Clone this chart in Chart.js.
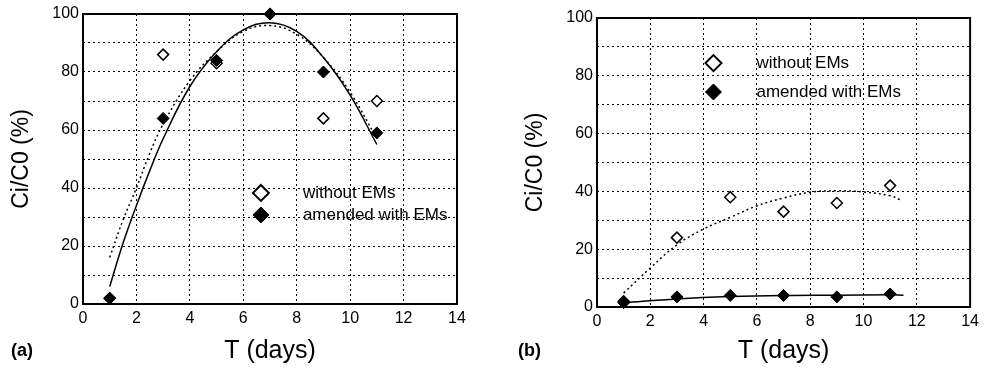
<!DOCTYPE html>
<html>
<head>
<meta charset="utf-8">
<script src="https://cdn.jsdelivr.net/npm/chart.js@4.4.0/dist/chart.umd.min.js"></script>
<style>
body{margin:0;background:#fff;width:984px;height:372px;position:relative;overflow:hidden;font-family:"Liberation Sans",Arial,sans-serif}
.box{position:absolute;top:0;height:372px}
.tag{position:absolute;top:340px;font-weight:bold;font-size:18px;color:#000}
</style>
</head>
<body>
<div class="box" style="left:0;width:475px"><canvas id="chartA"></canvas></div>
<div class="box" style="left:514px;width:470px"><canvas id="chartB"></canvas></div>
<div class="tag" style="left:11px">(a)</div>
<div class="tag" style="left:518px">(b)</div>
<script>
// dados medidos (dias de amostragem)
const days = [1, 3, 5, 7, 9, 11];
const aWithout = [2, 86, 83, 100, 64, 70];
const aAmended = [2, 64, 84, 100, 80, 59];
const bWithout = [2, 24, 38, 33, 36, 42];
const bAmended = [1.5, 3.5, 4, 4, 3.5, 4.5];

// curvas de ajuste
const aFitX = [1, 1.5, 2, 2.5, 3, 4, 5, 6, 7, 8, 9, 10, 11];
const aFitAmended = [6, 21, 34, 46, 57, 75, 87, 94.5, 97, 94, 85, 72, 55];
const aFitWithout = [16, 29, 40, 52, 62, 77, 87, 94, 96, 93, 85, 73, 57];
const bFitX = [1, 2, 3, 4, 5, 6, 7, 8, 9, 10, 11, 11.4];
const bFitWithout = [4.8, 13.5, 21.5, 27, 31, 35, 37.7, 39.7, 40.2, 39.8, 38.5, 37];
const bFitAmendedX = [1, 3, 5, 7, 9, 11, 11.5];
const bFitAmended = [1.5, 2.8, 3.6, 4, 4.1, 4.2, 4.1];

const legendLabels = ['without EMs', 'amended with EMs'];
const xTicks = [0, 2, 4, 6, 8, 10, 12, 14];
const yLabelTicks = [0, 20, 40, 60, 80, 100];

Chart.defaults.font.family = '"Liberation Sans", Arial, sans-serif';
Chart.defaults.color = '#000';

const pts = (xs, ys) => xs.map((x, i) => ({x: x, y: ys[i]}));

function diamond(ctx, x, y, r, open) {
  ctx.beginPath();
  ctx.moveTo(x, y - r);
  ctx.lineTo(x + r, y);
  ctx.lineTo(x, y + r);
  ctx.lineTo(x - r, y);
  ctx.closePath();
  ctx.fillStyle = open ? '#fff' : '#000';
  ctx.fill();
  ctx.lineWidth = open ? 2 : 1;
  ctx.strokeStyle = '#000';
  ctx.stroke();
}

// moldura e legenda dentro do gráfico
const framePlugin = {
  id: 'frame',
  beforeDatasetsDraw(chart) {
    const {ctx, chartArea: a} = chart;
    ctx.save();
    ctx.strokeStyle = '#000';
    ctx.lineWidth = 2;
    ctx.strokeRect(a.left, a.top, a.right - a.left, a.bottom - a.top);
    ctx.restore();
  },
  afterDraw(chart, args, opts) {
    const {ctx, scales} = chart;
    ctx.save();
    const x = scales.x.getPixelForValue(opts.at[0]);
    legendLabels.forEach((txt, i) => {
      const y = scales.y.getPixelForValue(opts.at[1] - i * opts.step);
      diamond(ctx, x, y, 8, i === 0);
      ctx.fillStyle = '#000';
      ctx.font = '17px "Liberation Sans", Arial, sans-serif';
      ctx.textBaseline = 'middle';
      ctx.fillText(txt, x + opts.textDx, y);
    });
    ctx.restore();
  }
};

function makeChart(id, cfg) {
  const open = {
    type: 'scatter', label: legendLabels[0], data: pts(days, cfg.without),
    pointStyle: 'rectRot', pointRadius: 5.5, backgroundColor: '#fff',
    borderColor: '#000', borderWidth: 1.5, order: 1, clip: false
  };
  const filled = {
    type: 'scatter', label: legendLabels[1], data: pts(days, cfg.amended),
    pointStyle: 'rectRot', pointRadius: 6, backgroundColor: '#000',
    borderColor: '#000', borderWidth: 1, order: 0, clip: false
  };
  const fitWithout = {
    type: 'line', data: pts(cfg.fitX, cfg.fitWithout), borderColor: '#000',
    borderWidth: 1.5, borderDash: [2, 3], pointRadius: 0, tension: 0.4, fill: false, order: 3
  };
  const fitAmended = {
    type: 'line', data: pts(cfg.fitAmendedX, cfg.fitAmended), borderColor: '#000',
    borderWidth: 1.5, pointRadius: 0, tension: 0.4, fill: false, order: 2
  };
  return new Chart(document.getElementById(id), {
    type: 'scatter',
    data: {datasets: [fitWithout, fitAmended, open, filled]},
    options: {
      responsive: true,
      maintainAspectRatio: false,
      animation: false,
      layout: {padding: {top: cfg.top, right: cfg.right, left: 0, bottom: 0}},
      plugins: {
        legend: {display: false},
        tooltip: {enabled: false},
        frame: cfg.legend
      },
      scales: {
        x: {
          type: 'linear', min: 0, max: 14,
          afterFit: s => { s.height = cfg.xHeight; },
          afterBuildTicks: s => { s.ticks = xTicks.map(v => ({value: v})); },
          grid: {color: '#000', lineWidth: 1, drawTicks: false},
          border: {display: false, dash: [2, 3]},
          ticks: {font: {size: 16}, padding: 5, color: '#000'},
          title: {display: true, text: 'T (days)', font: {size: 25}, padding: {top: 0, bottom: 6}, color: '#000'}
        },
        y: {
          min: 0, max: 100,
          afterFit: s => { s.width = 83; },
          ticks: {
            stepSize: 10, font: {size: 16}, padding: 4, color: '#000',
            callback: v => yLabelTicks.includes(v) ? v : ''
          },
          grid: {color: '#000', lineWidth: 1, drawTicks: false},
          border: {display: false, dash: [2, 3]},
          title: {display: true, text: 'Ci/C0 (%)', font: {size: 23}, padding: {top: 8, bottom: 0}, color: '#000'}
        }
      }
    },
    plugins: [framePlugin]
  });
}

makeChart('chartA', {
  without: aWithout, amended: aAmended,
  fitX: aFitX, fitWithout: aFitWithout, fitAmendedX: aFitX, fitAmended: aFitAmended,
  top: 14, right: 18, xHeight: 68,
  legend: {at: [6.66, 38.3], step: 7.6, textDx: 42}
});

makeChart('chartB', {
  without: bWithout, amended: bAmended,
  fitX: bFitX, fitWithout: bFitWithout, fitAmendedX: bFitAmendedX, fitAmended: bFitAmended,
  top: 18, right: 12, xHeight: 65,
  legend: {at: [4.37, 84.4], step: 10, textDx: 43}
});
</script>
</body>
</html>
